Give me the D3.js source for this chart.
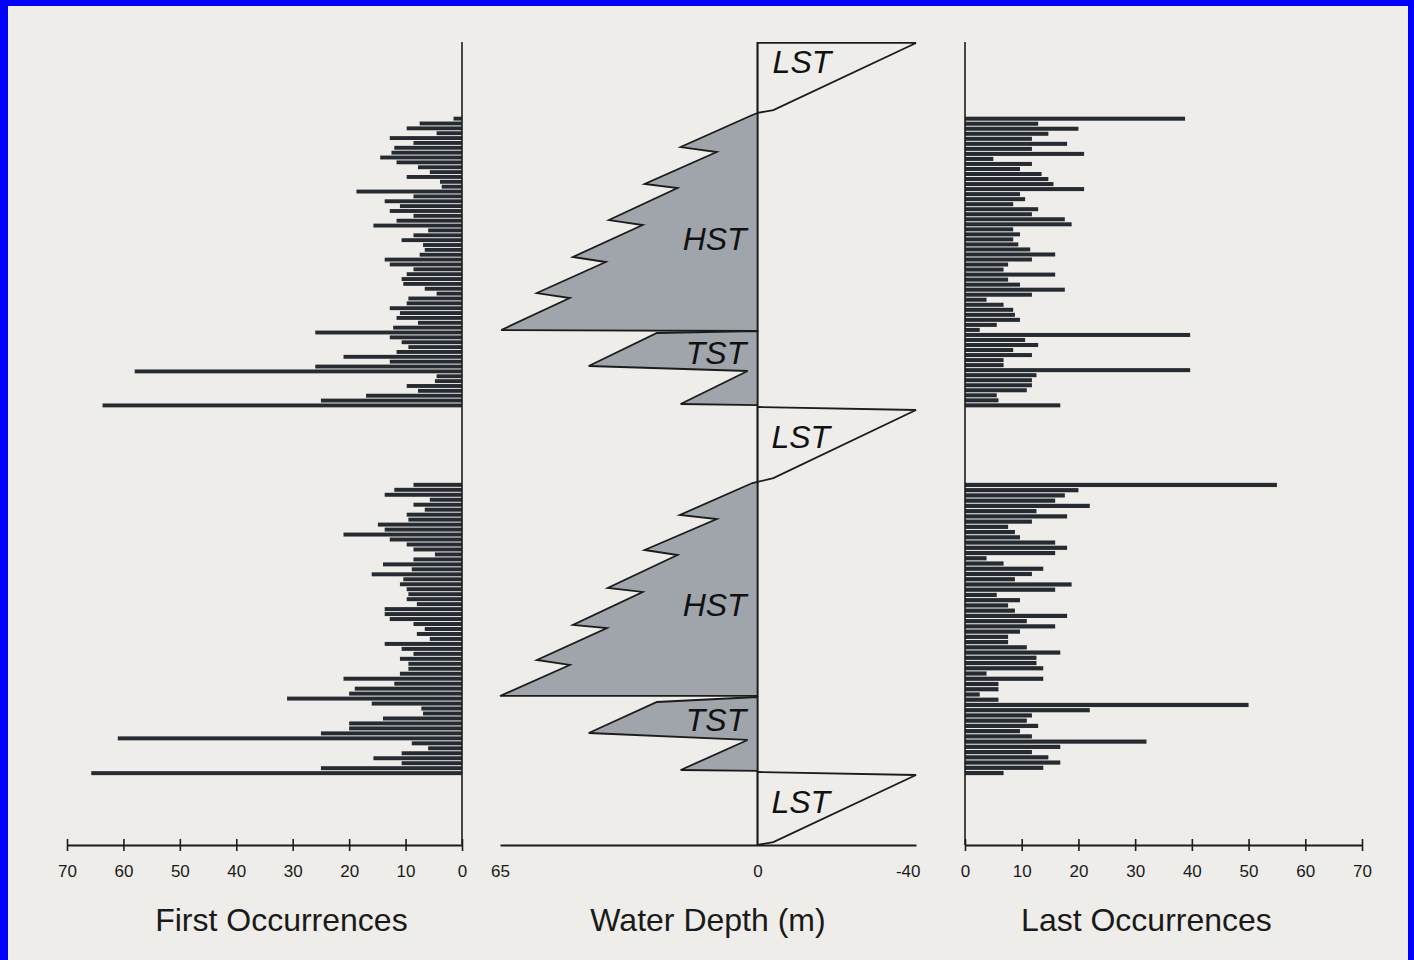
<!DOCTYPE html>
<html>
<head>
<meta charset="utf-8">
<script src="https://cdn.jsdelivr.net/npm/d3@7"></script>
<style>
  html, body { margin: 0; padding: 0; background: #0000ff; }
  svg { display: block; }
</style>
</head>
<body>
<svg id="chart" width="1414" height="960"></svg>
<script>
// ---------------- DATA ----------------
// First occurrences (number of taxa), top to bottom, per sequence
const firstUpper = [1.5,7.5,9.8,4.5,12.8,8.6,12,12.5,14.5,11.6,7.8,5.7,9.8,3.9,3.6,18.7,8.6,13.7,11,12.8,8.6,11.6,15.7,6,8.6,10.7,6.9,6.6,7.5,13.7,12.8,8.6,9.8,10.7,10.4,6.6,4.5,9.5,9.8,12.8,11,11.6,7.8,12.2,26,12.8,10.7,9.5,11.6,21,12.8,26,58,4.5,4.8,9.8,7.8,17,25,63.7];
const firstLower = [8.6,12,13.7,5.7,8.6,6.6,9.8,9.5,14.9,13.7,21,12.8,9.8,8.6,4.8,8.6,14,8.9,16,10.4,11,9.8,9.5,9.8,8,13.7,13.7,12.8,8.6,6.6,8,5.7,13.7,10.7,8.6,11,9.5,9.5,11,21,12,19,20,31,16,7.2,6.9,14,20,20,25,61,8.9,6,10.7,15.7,10.7,25,65.7];
// Last occurrences
const lastUpper = [38.8,12.9,20,14.7,11.8,18,11.8,21,5,11.8,9.7,13.5,14.7,15.6,21,9.7,10.6,8.5,12.9,11.8,17.6,18.8,8.5,9.7,8.5,9.4,11.5,15.9,11.8,7.6,6.8,15.9,7.6,9.7,17.6,11.8,3.8,6.8,8.5,8.8,9.7,5.6,2.6,39.7,10.6,12.9,8.5,11.8,6.8,6.8,39.7,12.6,11.8,11.8,10.9,5.6,5.9,16.8];
const lastLower = [55,20,17.6,15.9,22,12.6,18,11.8,7.6,8.8,9.7,15.9,18,15.9,3.8,6.8,13.8,11.8,8.8,18.8,15.9,5.6,9.7,7.6,8.8,18,10.9,15.9,9.7,7.6,7.6,10.9,16.8,12.6,12.6,13.8,3.8,13.8,5.9,5.9,2.6,5.9,50,22,11.8,10.9,12.9,9.7,11.8,32,16.8,11.8,14.7,16.8,13.8,6.8];
// stratigraphic spans (relative level 0 = top, 100 = base) covered by each bar group
const barSpans = [[9.3, 45.5], [54.9, 91.3]];

// Water depth curve (m) vs relative stratigraphic level, split by systems tract: [depth, level]
const lst1 = [[0,0.12],[-40,0.12],[-4,8.47],[0,8.84]];
const hst1 = [[0,8.84],[1.3,9.09],[19.4,13.08],[10.3,13.70],[28.5,17.68],[20.2,18.18],[37.5,22.17],[29,22.79],[46.6,26.77],[38.3,27.40],[55.7,31.26],[47.4,31.88],[64.7,35.87],[0,35.99]];
const tst1 = [[0,35.99],[25.4,36.24],[42.6,40.35],[2.5,40.97],[19.4,45.08],[0,45.21]];
const lst2 = [[0,45.45],[-40,45.83],[-4,54.30],[0,54.79]];
const hst2 = [[0,54.79],[1.3,54.92],[19.6,58.90],[10.3,59.40],[28.5,63.26],[20.2,63.89],[37.8,67.99],[29,68.49],[46.6,72.60],[38,72.98],[55.7,76.96],[47.4,77.58],[65,81.44],[0,81.44]];
const tst2 = [[0,81.57],[25.4,82.19],[42.6,86.05],[2.5,86.92],[19.4,90.66],[0,90.78]];
const lst3 = [[0,90.91],[-40,91.28],[-4,99.63],[0,100]];
const tractShapes = [
  {tract: "LST", pts: lst1}, {tract: "HST", pts: hst1}, {tract: "TST", pts: tst1},
  {tract: "LST", pts: lst2}, {tract: "HST", pts: hst2}, {tract: "TST", pts: tst2},
  {tract: "LST", pts: lst3}
];
// tract labels: [text, depth, level]
const tractLabels = [["LST",-3.8,3.9],["HST",18.9,25.9],["TST",18.1,40.1],["LST",-3.5,50.5],["HST",18.9,71.5],["TST",18.1,85.8],["LST",-3.5,96.0]];

const occTicks = [0,10,20,30,40,50,60,70];
const depthTicks = [65,0,-40];
const titles = ["First Occurrences", "Water Depth (m)", "Last Occurrences"];

// ---------------- LAYOUT ----------------
const svg = d3.select("#chart");
svg.append("rect").attr("x", 8).attr("y", 6).attr("width", 1414 - 14).attr("height", 960 - 6).attr("fill", "#eeede9");

const y = d3.scaleLinear().domain([0, 100]).range([42, 845]);
const xL = d3.scaleLinear().domain([0, 70]).range([462, 67]);
const xR = d3.scaleLinear().domain([0, 70]).range([965, 1362]);
const xM = d3.scaleLinear().domain([65, -40]).range([500, 916]);
const axisY = y(100);

const barColor = "#262a31";
const ink = "#1c1c1c";
const fmt = d => String(d);

function drawBars(vals, span, xs, side) {
  const band = d3.scaleBand().domain(d3.range(vals.length)).range([y(span[0]), y(span[1])]).paddingInner(0.2);
  svg.append("g").selectAll("rect").data(vals).join("rect")
    .attr("x", d => side === "left" ? xs(d) : xs(0))
    .attr("width", d => Math.abs(xs(d) - xs(0)))
    .attr("y", (d, i) => band(i))
    .attr("height", band.bandwidth())
    .attr("fill", barColor);
}
drawBars(firstUpper, barSpans[0], xL, "left");
drawBars(firstLower, barSpans[1], xL, "left");
drawBars(lastUpper, barSpans[0], xR, "right");
drawBars(lastLower, barSpans[1], xR, "right");

// vertical zero lines
[xL(0), xR(0), xM(0)].forEach(x => {
  svg.append("line").attr("x1", x).attr("x2", x).attr("y1", y(0)).attr("y2", axisY)
    .attr("stroke", ink).attr("stroke-width", 1.6);
});

// water depth polygons
const line = d3.line().x(d => xM(d[0])).y(d => y(d[1]));
svg.append("g").selectAll("path").data(tractShapes).join("path")
  .attr("d", d => line(d.pts) + "Z")
  .attr("fill", d => d.tract === "LST" ? "none" : "#a0a4ab")
  .attr("stroke", ink).attr("stroke-width", 1.8).attr("stroke-linejoin", "miter");

svg.append("g").selectAll("text").data(tractLabels).join("text")
  .attr("x", d => xM(d[1])).attr("y", d => y(d[2]))
  .attr("font-family", "Liberation Sans, Arial, sans-serif")
  .attr("font-style", "italic").attr("font-size", 32).attr("fill", "#111")
  .text(d => d[0]);

// axes
function styleAxis(g, cross) {
  g.select(".domain").attr("stroke", ink).attr("stroke-width", 2);
  g.selectAll(".tick line").attr("stroke", ink).attr("stroke-width", 1.6);
  if (cross) g.selectAll(".tick line").attr("y1", -6).attr("y2", 6);
  g.selectAll(".tick text").attr("fill", "#1a1a1a")
    .attr("font-family", "Liberation Sans Narrow, Arial Narrow, Liberation Sans, sans-serif")
    .attr("font-size", 17);
}
const gL = svg.append("g").attr("transform", `translate(0,${axisY})`)
  .call(d3.axisBottom(xL).tickValues(occTicks).tickSize(6).tickSizeOuter(0).tickPadding(14).tickFormat(fmt));
styleAxis(gL, true);
const gR = svg.append("g").attr("transform", `translate(0,${axisY})`)
  .call(d3.axisBottom(xR).tickValues(occTicks).tickSize(6).tickSizeOuter(0).tickPadding(14).tickFormat(fmt));
styleAxis(gR, true);
const gM = svg.append("g").attr("transform", `translate(0,${axisY})`)
  .call(d3.axisBottom(xM).tickValues(depthTicks).tickSize(0).tickSizeOuter(0).tickPadding(20).tickFormat(fmt));
styleAxis(gM, false);
gM.selectAll(".tick text").filter(d => d === -40).attr("text-anchor", "end").attr("dx", 4);

// titles
const titleX = [xL(32), xM(12.5), xR(32)];
svg.append("g").selectAll("text").data(titles).join("text")
  .attr("x", (d, i) => titleX[i]).attr("y", 931)
  .attr("text-anchor", "middle")
  .attr("font-family", "Liberation Sans, Arial, sans-serif")
  .attr("font-size", 32).attr("fill", "#1a1a1a")
  .text(d => d);
</script>
</body>
</html>
